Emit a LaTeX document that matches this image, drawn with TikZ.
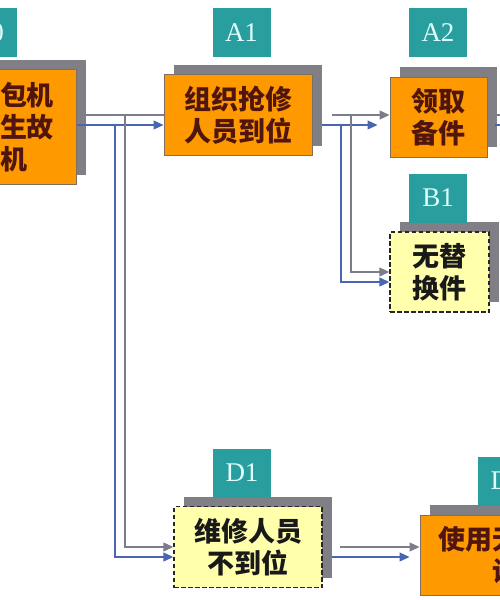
\documentclass[tikz,border=0pt]{standalone}
\usepackage{fontspec}
\setmainfont{Liberation Serif}
\newfontfamily\cjk{Noto Sans CJK SC}
\usepackage{tikz}
\usetikzlibrary{calc,arrows.meta,shadows}
\definecolor{tagteal}{RGB}{41,158,158}
\definecolor{tagtext}{RGB}{225,255,255}
\definecolor{shd}{RGB}{127,127,133}
\definecolor{org}{RGB}{255,153,0}
\definecolor{orgedge}{RGB}{130,110,95}
\definecolor{ylw}{RGB}{255,255,172}
\definecolor{lgray}{RGB}{125,125,138}
\definecolor{lblue}{RGB}{72,102,178}
\definecolor{brn}{RGB}{80,22,14}
\begin{document}
\begin{tikzpicture}[x=1pt, y=-1pt,
  box/.style={line width=1pt, align=center, inner sep=0pt, font=\cjk\bfseries\fontsize{27}{32}\selectfont,
    general shadow={fill=shd, shadow xshift=10pt, shadow yshift=10pt}},
  obox/.style={box, draw=orgedge, fill=org, text=brn},
  ybox/.style={box, draw=black!85, line width=1.4pt, fill=ylw, dash pattern=on 4.5pt off 2.5pt, text=black!90},
  tag/.style={fill=tagteal, text=tagtext, font=\fontsize{27}{27}\selectfont, minimum width=58pt, minimum height=49pt, inner sep=0pt},
  gln/.style={draw=lgray, line width=1.2pt},
  bln/.style={draw=lblue, line width=1.2pt},
  arr/.style={-{Triangle[length=10pt,width=9pt]}}]
\useasboundingbox (0,0) rectangle (500,600);
\clip (0,0) rectangle (500,600);
\fill[white] (0,0) rectangle (500,600);

\node[obox, minimum width=96pt, minimum height=115pt, text width=56pt, inner xsep=20pt, align=left] (L0) at (28,127) {包机\\生故\\机};
\node[obox, minimum width=148pt, minimum height=81pt] (A1) at (238,115) {组织抢修\\人员到位};
\node[obox, minimum width=97pt, minimum height=80pt] (A2) at (438.5,117) {领取\\备件};
\node[ybox, minimum width=99pt, minimum height=80pt] (B1) at (439.5,272) {无替\\换件};
\node[ybox, minimum width=148pt, minimum height=81pt] (D1) at (248,547) {维修人员\\不到位};
\node[obox, minimum width=198pt, minimum height=80pt] (D2) at (519,555) {使用无线通讯\\设备};

\foreach \t/\x/\y in {A0/-12.5/32.5, A1/241.5/32.5, A2/438/32.5, B1/438/198, D1/242/473, D2/507/481}
  \node[tag] (t\t) at (\x,\y) {\t};

\coordinate (jg1) at (125,115);
\coordinate (jb1) at (115,125);
\coordinate (sg2) at (332,115);
\coordinate (sb2) at (322,125);
\coordinate (jg2) at (351,115);
\coordinate (jb2) at (341,125);
\coordinate (sg3) at (340,547);
\coordinate (sb3) at (332,557);
\coordinate (sg4) at (495,115);
\coordinate (sb4) at (495,125);
\coordinate (eg) at (510,115);
\coordinate (eb) at (510,125);

\draw[gln] ([yshift=12pt]L0.east) -- (A1.west);
\draw[bln, arr] ([yshift=2pt]L0.east) -- ([yshift=-10pt]A1.west);
\draw[gln, arr] (jg1) |- (D1.west);
\draw[bln, arr] (jb1) |- ([yshift=-10pt]D1.west);
\draw[gln, arr] (sg2) -- (sg2 -| A2.west);
\draw[bln, arr] (sb2) -- ($(sb2 -| A2.west)+(-12,0)$);
\draw[gln, arr] (jg2) |- (B1.west);
\draw[bln, arr] (jb2) |- ([yshift=-10pt]B1.west);
\draw[gln, arr] (sg3) -- (sg3 -| D2.west);
\draw[bln, arr] (sb3) -- ($(sb3 -| D2.west)+(-10,0)$);
\draw[gln] (sg4) -- (eg);
\draw[bln] (sb4) -- (eb);
\end{tikzpicture}
\end{document}
